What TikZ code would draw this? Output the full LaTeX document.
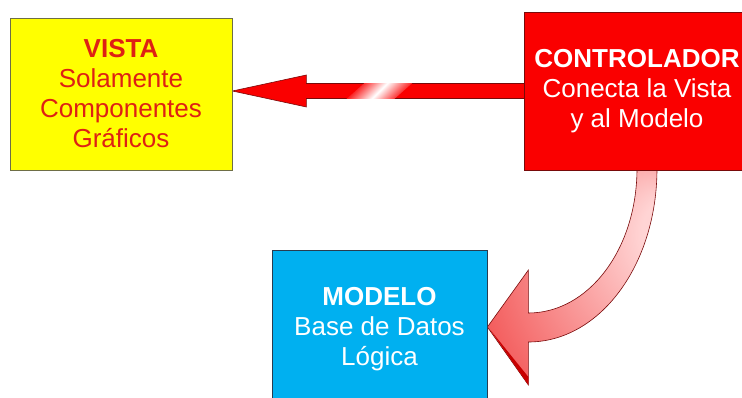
\documentclass[tikz,border=0pt]{standalone}
\usepackage{fontspec}
\setmainfont{Liberation Sans}
\usetikzlibrary{calc,backgrounds}

\definecolor{amarillo}{RGB}{255,255,0}
\definecolor{rojo}{RGB}{250,0,0}
\definecolor{celeste}{RGB}{0,176,240}
\definecolor{rojotexto}{RGB}{222,32,20}
\definecolor{bordeam}{RGB}{110,110,70}
\definecolor{bordero}{RGB}{120,10,10}
\definecolor{bordece}{RGB}{40,60,80}
\definecolor{rosa}{RGB}{255,212,212}
\definecolor{rojomed}{RGB}{242,80,80}
\definecolor{rojoosc}{RGB}{200,0,0}

\pgfdeclareradialshading{arcorosa}{\pgfpoint{34bp}{12bp}}{%
    color(0bp)=(rosa); color(8bp)=(rosa); color(40bp)=(rojomed); color(50bp)=(rojomed)}

\begin{document}
\begin{tikzpicture}[x=1pt,y=-1pt,
    caja/.style={rectangle, draw, line width=0.8pt, align=center, inner sep=0pt,
        font=\fontsize{26}{30}\selectfont},
    flecha/.style={draw=bordero, line width=0.6pt, line join=miter}]
    \clip (0,0) rectangle (742,398);

    \node[caja, fill=amarillo, draw=bordeam, text=rojotexto,
        minimum width=222pt, minimum height=152pt] (vista) at (121,94)
        {\textbf{VISTA}\\Solamente\\Componentes\\Gráficos};
    \node[caja, fill=rojo, draw=bordero, text=white,
        minimum width=226pt, minimum height=158pt] (controlador) at (637,91)
        {\textbf{CONTROLADOR}\\Conecta la Vista\\y al Modelo};
    \node[caja, fill=celeste, draw=bordece, text=white,
        minimum width=215pt, minimum height=158pt] (modelo) at (379.5,329)
        {\textbf{MODELO}\\Base de Datos\\Lógica};

    \begin{scope}[on background layer]
    % flecha recta: controlador -> vista
    \coordinate (ct) at (controlador.west);
    \coordinate (vt) at (vista.east |- controlador.west);
    \fill[rojo, flecha] ($(ct)+(2,-7.5)$) -- ($(vt)+(74,-7.5)$) -- ($(vt)+(74,-16)$)
        -- (vt) -- ($(vt)+(74,16)$) -- ($(vt)+(74,7.5)$) -- ($(ct)+(2,7.5)$) -- cycle;
    \begin{scope}
        \clip ($(vt)+(74,-7.2)$) rectangle ($(ct)+(0,7.2)$);
        \shade[left color=rojo, right color=rojo, middle color=white, shading angle=45]
            ($(vt)+(132,-8)$) -- ($(vt)+(180,-8)$) -- ($(vt)+(162,8)$) -- ($(vt)+(114,8)$) -- cycle;
    \end{scope}

    % flecha curva: controlador -> modelo
    \coordinate (cs) at (controlador.south);
    \coordinate (me) at ($(modelo.east)+(0,-2)$);
    \shade[flecha, shading=arcorosa]
        ($(cs)+(0,-2)$) -- ($(cs)+(20,-2)$)
        .. controls ($(cs)+(20,95)$) and ($(me)+(112,15)$) .. ($(me)+(41,15)$)
        -- ($(me)+(41,58)$) -- (me) -- ($(me)+(41,-57)$) -- ($(me)+(41,-14)$)
        .. controls ($(me)+(101,-14)$) and ($(cs)+(0,79)$) .. ($(cs)+(0,-2)$) -- cycle;
    \fill[rojoosc] ($(me)+(3,3)$) -- ($(me)+(41,58)$) -- ($(me)+(41,50)$) -- cycle;
    \end{scope}
\end{tikzpicture}
\end{document}
